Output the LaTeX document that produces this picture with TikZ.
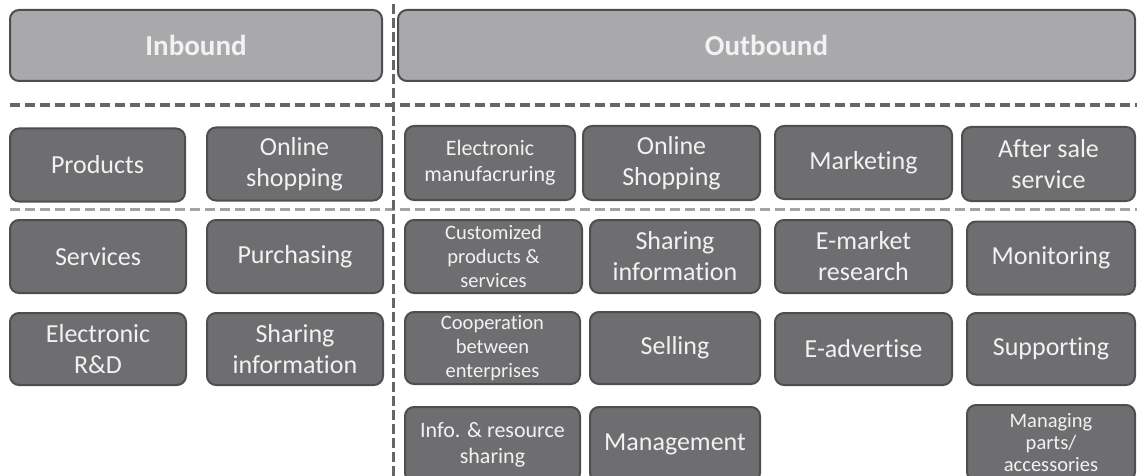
\documentclass[tikz,border=0pt]{standalone}
\usepackage{fontspec}
\setmainfont{Carlito}[Ligatures=NoCommon]
\definecolor{hdrfill}{HTML}{A9A9AB}
\definecolor{boxfill}{HTML}{6E6E70}
\definecolor{boxedge}{HTML}{4E4E4E}
\definecolor{txt}{HTML}{F2F2F2}
\definecolor{darkdash}{HTML}{666666}
\definecolor{lightdash}{HTML}{A3A3A3}
\tikzset{
  base/.style={draw=boxedge, line width=2pt, rounded corners=9pt, text=txt, align=center, inner sep=0pt},
  hdr/.style={base, fill=hdrfill, font=\fontsize{29}{34}\selectfont\bfseries},
  cell/.style={base, fill=boxfill, font=\fontsize{26}{31}\selectfont},
  smallcell/.style={base, fill=boxfill, font=\fontsize{22}{26}\selectfont},
  tinycell/.style={base, fill=boxfill, font=\fontsize{20.5}{24}\selectfont},
  sep/.style={line width=4pt, draw=darkdash, dash pattern=on 10pt off 5pt},
  subsep/.style={line width=3pt, draw=lightdash, dash pattern=on 10pt off 5pt},
  vsep/.style={line width=3pt, draw=darkdash, dash pattern=on 10pt off 4pt}
}
\begin{document}
\begin{tikzpicture}[x=1pt,y=-1pt]
\useasboundingbox (0,0) rectangle (1137,476);
\clip (0,0) rectangle (1137,476);
% separators
\coordinate (s1a) at (10,105); \coordinate (s1b) at (1137,105);
\coordinate (s2a) at (10,209); \coordinate (s2b) at (1137,209);
\coordinate (v1a) at (393,4); \coordinate (v1b) at (393,480);
\draw[sep] (s1a) -- (s1b);
\draw[subsep] (s2a) -- (s2b);
\draw[vsep] (v1a) -- (v1b);
% headers
\node[hdr, minimum width=372, minimum height=71] (inb) at (196,45.5) {Inbound};
\node[hdr, minimum width=737, minimum height=71] (outb) at (766.5,45.5) {Outbound};
% row 1
\node[cell, minimum width=175, minimum height=73] (prod) at (97.5,165) {Products};
\node[cell, minimum width=175, minimum height=73] (onl) at (294.5,164) {Online\\shopping};
\node[smallcell, minimum width=170, minimum height=74] (elman) at (490,163) {Electronic\\manufacruring};
\node[cell, minimum width=177, minimum height=74] (onl2) at (671.5,163) {Online\\Shopping};
\node[cell, minimum width=177, minimum height=73] (mkt) at (863.5,162.5) {Marketing};
\node[cell, minimum width=173, minimum height=74] (aft) at (1048.5,164) {After sale\\service};
% row 2
\node[cell, minimum width=176, minimum height=73] (serv) at (98,256.5) {Services};
\node[cell, minimum width=176, minimum height=73] (purch) at (295,256.5) {Purchasing};
\node[tinycell, minimum width=177, minimum height=73] (cust) at (493.5,256.5) {Customized\\products \&\\services};
\node[cell, minimum width=170, minimum height=73] (shr2) at (675,256.5) {Sharing\\information};
\node[cell, minimum width=177, minimum height=73] (emk) at (863.5,256.5) {E-market\\research};
\node[cell, minimum width=168, minimum height=73] (mon) at (1051,258) {Monitoring};
% row 3
\node[cell, minimum width=176, minimum height=72] (erd) at (98,349) {Electronic\\R\&D};
\node[cell, minimum width=176, minimum height=72] (shr1) at (295,349) {Sharing\\information};
\node[tinycell, minimum width=175, minimum height=72] (coop) at (492.5,348) {Cooperation\\between\\enterprises};
\node[cell, minimum width=170, minimum height=72] (sell) at (675,348) {Selling};
\node[cell, minimum width=177, minimum height=72] (eadv) at (863.5,349) {E-advertise};
\node[cell, minimum width=168, minimum height=72] (sup) at (1051,349) {Supporting};
% row 4
\node[smallcell, minimum width=175, minimum height=75] (info) at (492.5,444.5) {Info. \& resource\\sharing};
\node[cell, minimum width=170, minimum height=75] (mgmt) at (675,444.5) {Management};
\node[tinycell, minimum width=168, minimum height=76, font=\fontsize{20.5}{22}\selectfont] (mpa) at (1051,443) {Managing\\parts/\\accessories};
\end{tikzpicture}
\end{document}
